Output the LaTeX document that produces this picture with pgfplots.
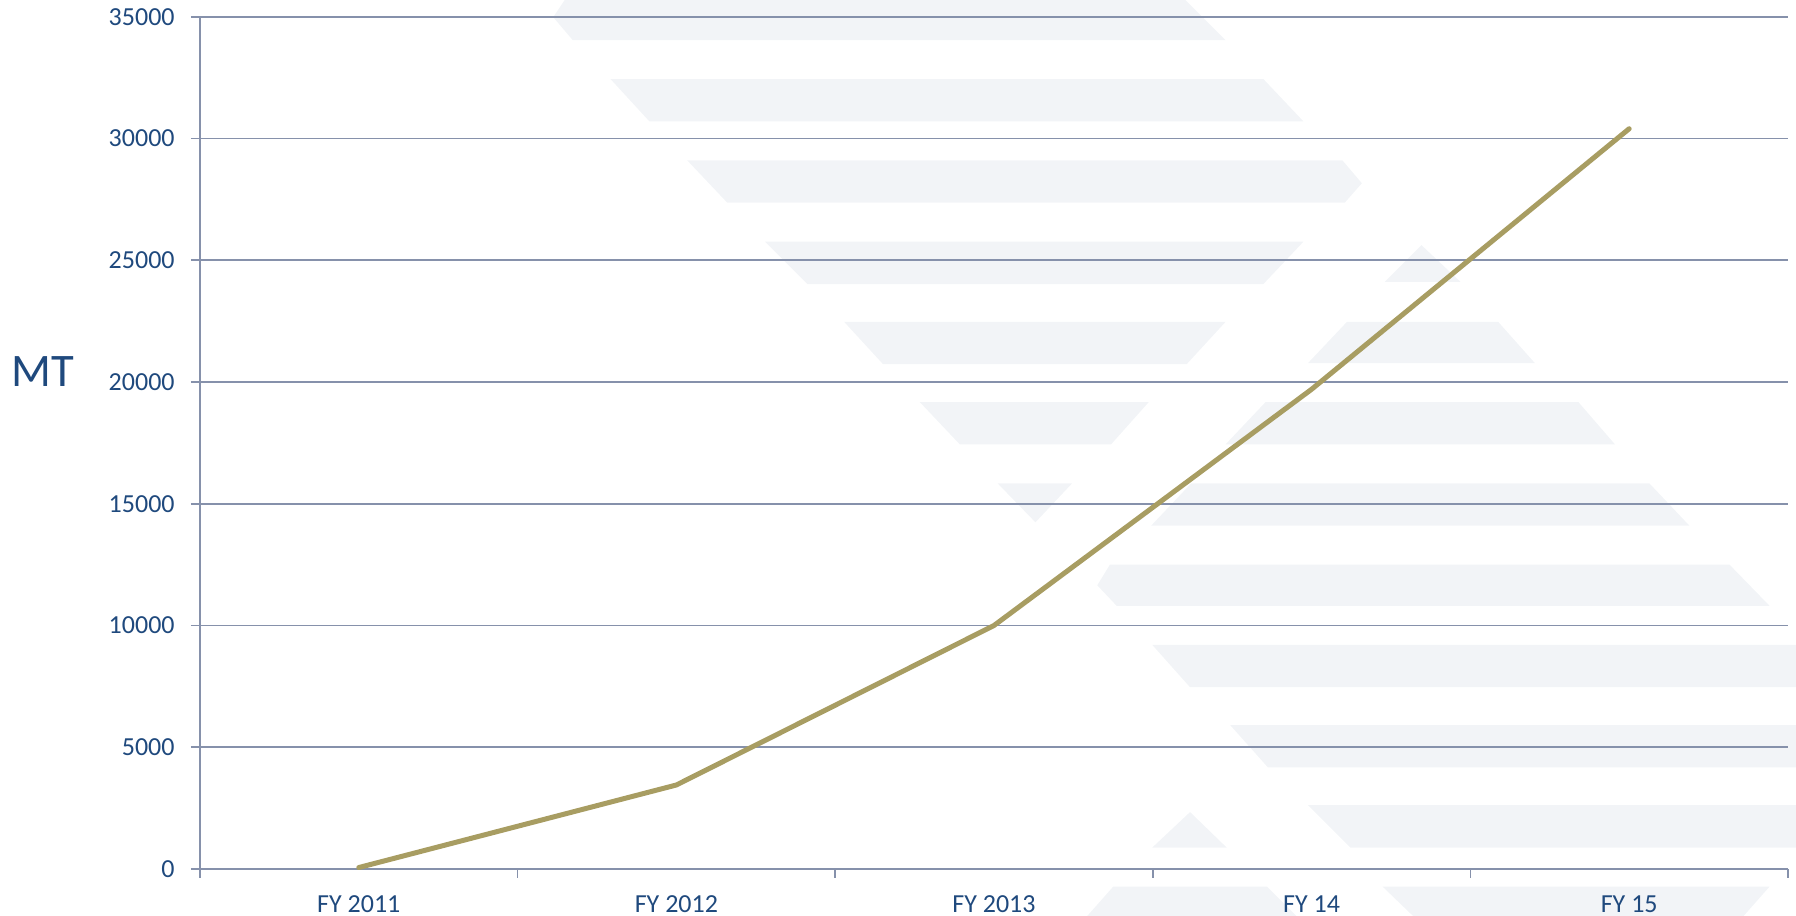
\documentclass[border=0pt]{standalone}
\usepackage{fontspec}
\setmainfont{Carlito}
\usepackage{pgfplots}
\pgfplotsset{compat=1.18}
\definecolor{tickblue}{RGB}{31,73,125}
\definecolor{axisgray}{RGB}{134,145,171}
\definecolor{linecol}{RGB}{168,157,98}
\definecolor{wm}{RGB}{242,244,247}
\begin{document}
\begin{tikzpicture}
\useasboundingbox (-100pt,-23.5pt) rectangle (798pt,434.5pt);
% faint decorative watermark (display-pixel coordinates)
\begin{scope}[shift={(-100pt,434.5pt)}, x=0.5727pt, y=-0.5727pt]
\fill[wm] (493,0) -- (483,15) -- (500,35) -- (1070,35) -- (1035,0) -- cycle;
\fill[wm] (533,69) -- (567,106) -- (1138,106) -- (1103,69) -- cycle;
\fill[wm] (600,140) -- (635,177) -- (1174,177) -- (1189,160) -- (1172,140) -- cycle;
\fill[wm] (668,211) -- (705,248) -- (1103,248) -- (1138,211) -- cycle;
\fill[wm] (737,281) -- (771,318) -- (1036,318) -- (1070,281) -- cycle;
\fill[wm] (803,351) -- (838,388) -- (970,388) -- (1003,351) -- cycle;
\fill[wm] (871,422) -- (936,422) -- (904,456) -- cycle;
\fill[wm] (1241,214) -- (1275,246) -- (1209,246) -- cycle;
\fill[wm] (1176,281) -- (1308,281) -- (1340,317) -- (1142,317) -- cycle;
\fill[wm] (1105,351) -- (1378,351) -- (1410,388) -- (1070,388) -- cycle;
\fill[wm] (1040,422) -- (1440,422) -- (1475,459) -- (1005,459) -- cycle;
\fill[wm] (969,493) -- (1510,493) -- (1545,529) -- (975,529) -- (958,511) -- cycle;
\fill[wm] (1006,563) -- (1568,563) -- (1568,600) -- (1039,600) -- cycle;
\fill[wm] (1074,633) -- (1568,633) -- (1568,670) -- (1107,670) -- cycle;
\fill[wm] (1142,703) -- (1568,703) -- (1568,740) -- (1179,740) -- cycle;
\fill[wm] (1039,709) -- (1071,740) -- (1006,740) -- cycle;
\fill[wm] (972,774) -- (1106,774) -- (1132,800) -- (949,800) -- cycle;
\fill[wm] (1207,774) -- (1545,774) -- (1522,800) -- (1234,800) -- cycle;
\end{scope}
\begin{axis}[
  scale only axis, width=794pt, height=426.15pt,
  xmin=-0.5, xmax=4.5, ymin=0, ymax=35000,
  axis x line*=bottom, axis y line*=left,
  axis line style={axisgray, line width=0.9pt},
  xtick={-0.5,0.5,1.5,2.5,3.5,4.5}, xticklabels={},
  extra x ticks={0,1,2,3,4},
  extra x tick labels={FY 2011,FY 2012,FY 2013,FY 14,FY 15},
  extra x tick style={major tick length=0pt, tick style={draw=none}},
  ytick={0,5000,10000,15000,20000,25000,30000,35000},
  ymajorgrids, grid style={axisgray, line width=0.9pt},
  tick align=outside, major tick length=4.5pt,
  tick style={axisgray, line width=0.9pt},
  scaled y ticks=false,
  yticklabel style={font=\fontsize{13}{13}\selectfont, text=tickblue, anchor=east, inner sep=0pt, xshift=-8pt},
  xticklabel style={font=\fontsize{13}{13}\selectfont, text=tickblue, anchor=base, inner sep=0pt, yshift=-22pt},
  /pgf/number format/1000 sep={},
  /pgf/number format/assume math mode=true,
  clip=false,
]
\addplot[linecol, line width=2.5pt, line join=round, line cap=round] coordinates {
  (0,60) (1,3450) (2,10000) (3,19700) (4,30400)
};
\node[anchor=base west, inner sep=0pt, font=\fontsize{23.3}{24}\selectfont, text=tickblue] at ([xshift=-94.5pt, yshift=241.2pt]rel axis cs:0,0) {MT};
\end{axis}
\end{tikzpicture}
\end{document}
